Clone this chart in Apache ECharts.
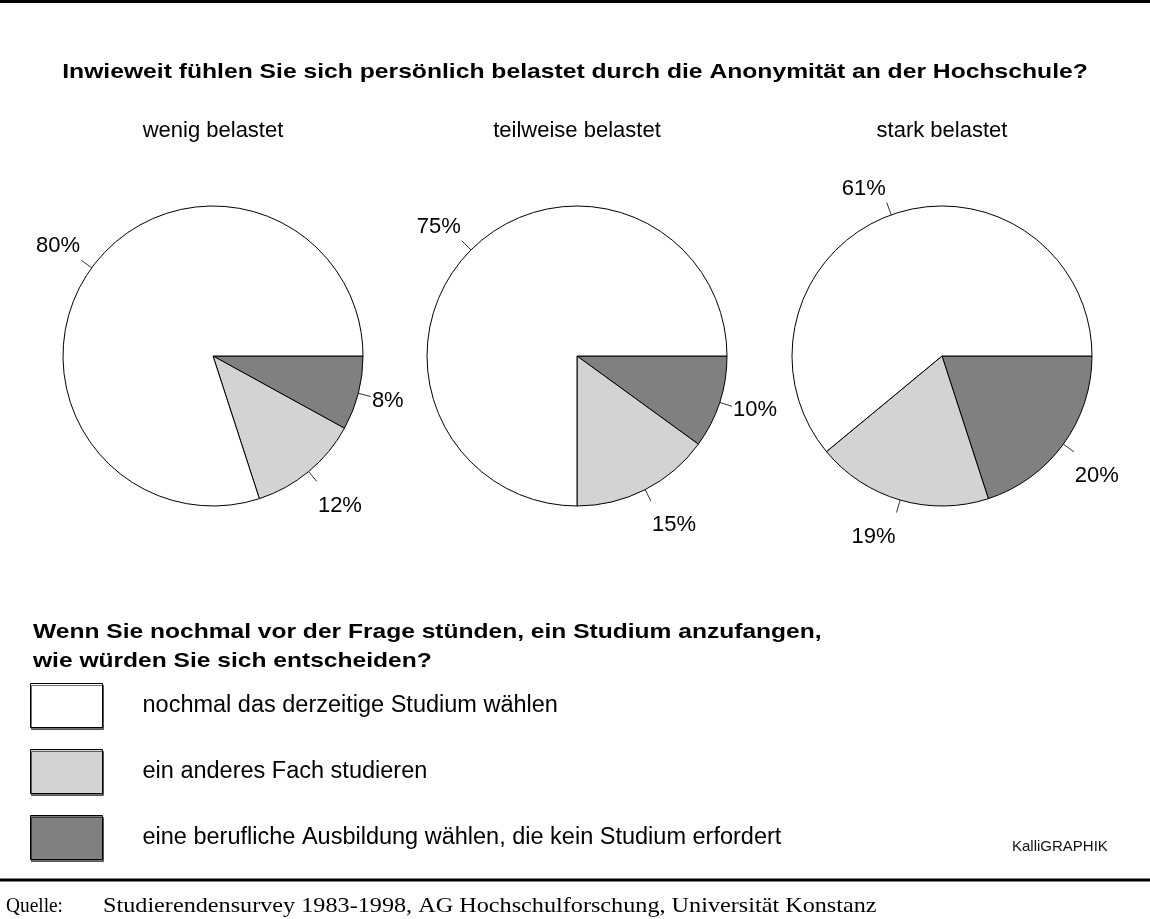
<!DOCTYPE html>
<html>
<head>
<meta charset="utf-8">
<script src="https://cdn.jsdelivr.net/npm/echarts@6/dist/echarts.min.js"></script>
<style>
  html, body { margin: 0; padding: 0; background: #ffffff; }
  #chart { width: 1150px; height: 919px; }
</style>
</head>
<body>
<div id="chart"></div>
<script>
// Groups: how strongly students feel burdened by anonymity at the university
const groups = ['wenig belastet', 'teilweise belastet', 'stark belastet'];
// Answer options (legend order)
const choices = [
  'nochmal das derzeitige Studium wählen',
  'ein anderes Fach studieren',
  'eine berufliche Ausbildung wählen, die kein Studium erfordert'
];
// Percentages per group, one array per answer option
const nochmal = [80, 75, 61];
const anderesFach = [12, 15, 19];
const beruflich = [8, 10, 20];

const choiceColors = ['#ffffff', '#d3d3d3', '#808080'];
const pieCentersX = [213, 577, 942];

const FONT = '"Liberation Sans", Arial, Helvetica, sans-serif';
const SERIF = '"Liberation Serif", "Times New Roman", serif';

// Hang each percentage label off the end of its short radial leader line:
// side-on for nearly horizontal lines, corner-on otherwise
function hangingLabel(params) {
  const pts = params.labelLinePoints;
  if (!pts || pts.length < 2) return {};
  const p0 = pts[0], p1 = pts[1];
  let dx = p1[0] - p0[0], dy = p1[1] - p0[1];
  const len = Math.hypot(dx, dy) || 1;
  dx /= len; dy /= len;
  const r = params.labelRect;
  const hw = r.width / 2;
  const cx = p1[0] + Math.sign(dx || 1) * (hw + 1);
  let cy;
  if (Math.abs(dy) < 0.4) cy = p1[1] + 4;
  else cy = p1[1] + (dy > 0 ? 24 : -14);
  return {
    x: cx,
    y: cy,
    align: 'center',
    verticalAlign: 'middle',
    labelLinePoints: [p0, p1, p1]
  };
}

const series = groups.map((g, i) => ({
  type: 'pie',
  name: g,
  center: [pieCentersX[i], 356],
  radius: 150,
  startAngle: 0,
  clockwise: true,
  avoidLabelOverlap: false,
  silent: true,
  animation: false,
  itemStyle: { borderColor: '#000000', borderWidth: 1 },
  label: {
    show: true,
    position: 'outside',
    formatter: '{c}%',
    fontFamily: FONT,
    fontSize: 22,
    color: '#000000'
  },
  labelLine: {
    show: true,
    length: 13,
    length2: 0,
    smooth: false,
    lineStyle: { color: '#333333', width: 1 }
  },
  labelLayout: hangingLabel,
  emphasis: { disabled: true },
  data: [
    { name: choices[2], value: beruflich[i], itemStyle: { color: choiceColors[2] } },
    { name: choices[1], value: anderesFach[i], itemStyle: { color: choiceColors[1] } },
    { name: choices[0], value: nochmal[i], itemStyle: { color: choiceColors[0] } }
  ]
}));

const graphics = [
  { type: 'line', shape: { x1: 0, y1: 1.5, x2: 1150, y2: 1.5 }, style: { stroke: '#000', lineWidth: 3 } },
  { type: 'line', shape: { x1: 0, y1: 880, x2: 1150, y2: 880 }, style: { stroke: '#000', lineWidth: 3 } },
  {
    type: 'text', x: 575, y: 72, scaleX: 1.175,
    style: {
      text: 'Inwieweit fühlen Sie sich persönlich belastet durch die Anonymität an der Hochschule?',
      font: 'bold 21px ' + FONT, fill: '#000', align: 'center', verticalAlign: 'middle'
    }
  },
  {
    type: 'text', x: 33, y: 632, scaleX: 1.17,
    style: {
      text: 'Wenn Sie nochmal vor der Frage stünden, ein Studium anzufangen,',
      font: 'bold 21px ' + FONT, fill: '#000', align: 'left', verticalAlign: 'middle'
    }
  },
  {
    type: 'text', x: 33, y: 661, scaleX: 1.17,
    style: {
      text: 'wie würden Sie sich entscheiden?',
      font: 'bold 21px ' + FONT, fill: '#000', align: 'left', verticalAlign: 'middle'
    }
  },
  {
    type: 'text', x: 1012, y: 847,
    style: { text: 'KalliGRAPHIK', font: '15px ' + FONT, fill: '#111', align: 'left', verticalAlign: 'middle' }
  },
  {
    type: 'text', x: 6, y: 906, scaleX: 0.88,
    style: { text: 'Quelle:', font: '22px ' + SERIF, fill: '#000', align: 'left', verticalAlign: 'middle' }
  },
  {
    type: 'text', x: 103, y: 906, scaleX: 1.1,
    style: {
      text: 'Studierendensurvey 1983-1998, AG Hochschulforschung, Universität Konstanz',
      font: '22px ' + SERIF, fill: '#000', align: 'left', verticalAlign: 'middle'
    }
  }
];

groups.forEach((g, i) => {
  graphics.push({
    type: 'text', x: pieCentersX[i], y: 131,
    style: { text: g, font: '22px ' + FONT, fill: '#000', align: 'center', verticalAlign: 'middle' }
  });
});

const chart = echarts.init(document.getElementById('chart'), null, { renderer: 'canvas' });
chart.setOption({
  backgroundColor: '#ffffff',
  animation: false,
  legend: {
    data: choices,
    orient: 'vertical',
    left: 30,
    top: 683,
    padding: 0,
    itemWidth: 72,
    itemHeight: 44,
    itemGap: 21,
    icon: 'rect',
    selectedMode: false,
    itemStyle: {
      borderColor: '#000', borderWidth: 1,
      shadowColor: 'rgba(0,0,0,0.55)', shadowOffsetX: 1, shadowOffsetY: 2, shadowBlur: 0
    },
    textStyle: { fontFamily: FONT, fontSize: 23.5, color: '#000', padding: [0, 0, 0, 35] }
  },
  series: series,
  graphic: graphics
});
</script>
</body>
</html>
